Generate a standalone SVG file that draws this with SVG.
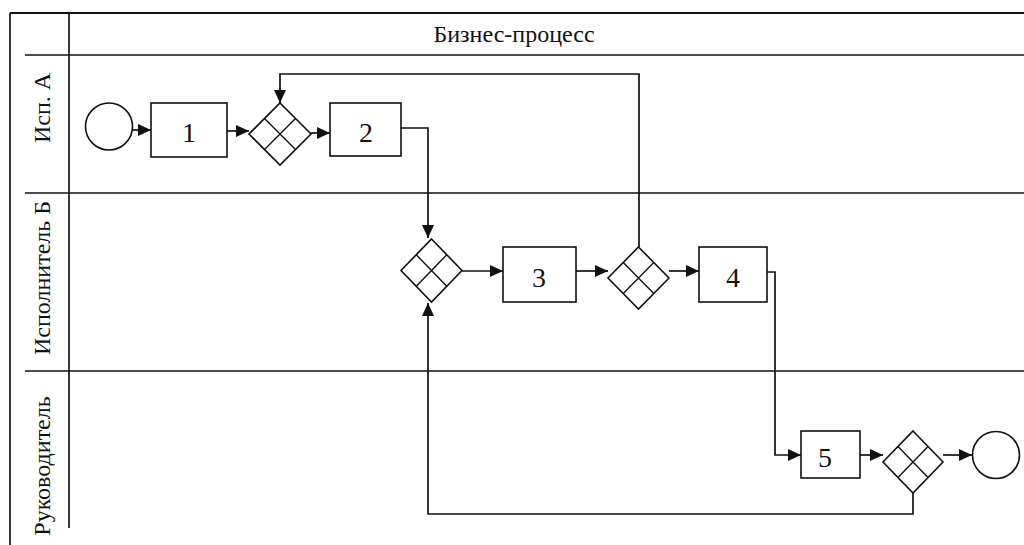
<svg xmlns="http://www.w3.org/2000/svg" width="1024" height="545" viewBox="0 0 1024 545">
<defs>
<style>
.ln{stroke:#111;stroke-width:1.7;fill:none}
.sh{stroke:#111;stroke-width:1.6;fill:#fff}
.in{stroke:#111;stroke-width:1.4;fill:none}
.t{font-family:"Liberation Serif","Times New Roman",serif;font-size:24px;fill:#111;text-anchor:middle}
.n{font-size:28px}
.c{stroke:#111;stroke-width:1.7;fill:none;marker-end:url(#ah)}
</style>
<marker id="ah" markerUnits="userSpaceOnUse" markerWidth="13" markerHeight="12" refX="13" refY="6" orient="auto">
<path d="M0,0 L13,6 L0,12 Z" fill="#111"/>
</marker>
</defs>
<rect width="1024" height="545" fill="#fff"/>
<g id="pool">
<line class="ln" x1="10" y1="13" x2="1024" y2="13" style="stroke-width:2.2"/>
<line class="ln" x1="10" y1="13" x2="10" y2="545"/>
<line class="ln" x1="69" y1="13" x2="69" y2="528"/>
<line class="ln" x1="25" y1="55" x2="1024" y2="55"/>
<line class="ln" x1="25" y1="193" x2="1024" y2="193"/>
<line class="ln" x1="25" y1="371" x2="1024" y2="371"/>
<text class="t" x="514" y="42">Бизнес-процесс</text>
<text class="t" transform="translate(50,108) rotate(-90)">Исп. А</text>
<text class="t" transform="translate(50,278) rotate(-90)">Исполнитель Б</text>
<text class="t" transform="translate(50,466) rotate(-90)">Руководитель</text>
</g>
<g id="connectors">
<path class="c" d="M133,130 L151,130"/>
<path class="c" d="M227,131 L249,131"/>
<path class="c" d="M311,133 L330,133"/>
<path class="c" d="M401,128 L428,128 L428,238"/>
<path class="c" d="M462,271 L503,271"/>
<path class="c" d="M576,271 L608,271"/>
<path class="c" d="M669,271 L699,271"/>
<path class="c" d="M639,247 L639,74 L280,74 L280,103"/>
<path class="c" d="M767,272 L775,272 L775,455 L801,455"/>
<path class="c" d="M860,455 L883,455"/>
<path class="c" d="M943,455 L972,455"/>
<path class="c" d="M913,493 L913,514 L428,514 L428,303"/>
</g>
<g id="start"><circle class="sh" cx="109" cy="126.5" r="23.5"/></g>
<g id="task1"><rect class="sh" x="151" y="103" width="76" height="54"/><text class="t n" x="189" y="142">1</text></g>
<g id="gw1"><path class="sh" d="M280,103 L311,134 L280,165 L249,134 Z"/><path class="in" d="M264.5,118.5 L295.5,149.5 M295.5,118.5 L264.5,149.5"/></g>
<g id="task2"><rect class="sh" x="330" y="103" width="71" height="53"/><text class="t n" x="366" y="142">2</text></g>
<g id="gw2"><path class="sh" d="M431.5,239 L462,270.5 L431.5,302 L401,270.5 Z"/><path class="in" d="M416.25,254.75 L446.75,286.25 M446.75,254.75 L416.25,286.25"/></g>
<g id="task3"><rect class="sh" x="503" y="247" width="73" height="55"/><text class="t n" x="539" y="287">3</text></g>
<g id="gw3"><path class="sh" d="M638.5,247 L669,278 L638.5,309 L608,278 Z"/><path class="in" d="M623.25,262.5 L653.75,293.5 M653.75,262.5 L623.25,293.5"/></g>
<g id="task4"><rect class="sh" x="699" y="247" width="68" height="55"/><text class="t n" x="733" y="287">4</text></g>
<g id="task5"><rect class="sh" x="801" y="431" width="59" height="47"/><text class="t n" x="825" y="467">5</text></g>
<g id="gw4"><path class="sh" d="M913,431 L943,462 L913,493 L883,462 Z"/><path class="in" d="M898,446.5 L928,477.5 M928,446.5 L898,477.5"/></g>
<g id="end"><circle class="sh" cx="996" cy="455" r="23.5"/></g>
</svg>
